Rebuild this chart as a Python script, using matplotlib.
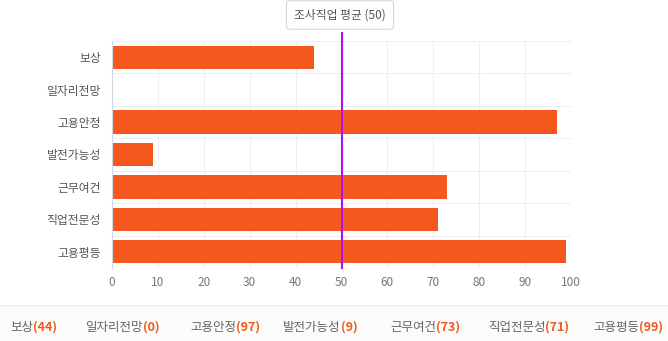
import matplotlib
matplotlib.use("Agg")
import matplotlib.pyplot as plt
from matplotlib.patches import Rectangle

categories = ["보상", "일자리전망", "고용안정", "발전가능성", "근무여건", "직업전문성", "고용평등"]
values = [44, 0, 97, 9, 73, 71, 99]
average = 50
avg_label = "조사직업 평균 (50)"
xticks = [0, 10, 20, 30, 40, 50, 60, 70, 80, 90, 100]
summary_starts = [10, 85, 190, 283, 390, 488, 593]  # px from left

bar_color = "#f4581c"
font = ["Noto Sans CJK KR", "DejaVu Sans"]
plt.rcParams["font.family"] = font

fig = plt.figure(figsize=(6.68, 3.41), dpi=100)
ax = fig.add_axes([112 / 668, 1 - 268 / 341, 459 / 668, 227 / 341])

ypos = list(range(len(categories)))
ax.barh(ypos, values, height=0.72, color=bar_color, zorder=2)
ax.set_xlim(0, 100)
ax.set_ylim(len(categories) - 0.5, -0.5)
ax.set_yticks(ypos)
ax.set_yticklabels(categories, fontsize=8.5, color="#555555")
ax.set_xticks(xticks)
ax.set_xticklabels([str(t) for t in xticks], fontsize=8.5, color="#777777")
ax.tick_params(length=0, pad=6)
ax.tick_params(axis="y", pad=8)

# grid
for t in xticks[1:]:
    ax.axvline(t, color="#efefef", lw=0.8, zorder=1)
for b in [i - 0.5 for i in range(len(categories))]:
    ax.axhline(b, color="#efefef", lw=0.8, zorder=1)
for s in ["top", "right", "bottom"]:
    ax.spines[s].set_visible(False)
ax.spines["left"].set_color("#cfd8e3")
ax.spines["left"].set_linewidth(0.8)

# average line
ax.plot([average, average], [len(categories) - 0.5, -0.75], color="#b010f0",
        lw=1.5, zorder=3, clip_on=False)
fig.text(340 / 668, 1 - 15 / 341, avg_label, ha="center", va="center",
         fontsize=8.5, color="#555555",
         bbox=dict(boxstyle="round,pad=0.65,rounding_size=0.3", fc="white",
                   ec="#d6d6d6", lw=0.8))

# bottom summary strip
fig.patches.append(Rectangle((0, 0), 1, 1 - 305 / 341, transform=fig.transFigure,
                             fc="#fbfbfb", ec="none", zorder=0))
fig.lines.append(plt.Line2D([0, 1], [1 - 305 / 341] * 2, transform=fig.transFigure,
                            color="#eeeeee", lw=0.8))

fig.canvas.draw()
y = 1 - 327 / 341
for name, v, sx in zip(categories, values, summary_starts):
    t1 = fig.text(sx / 668, y, name, fontsize=9, color="#666666", va="center", ha="left")
    t2 = fig.text(0, 0, f"({v})", fontsize=9, color="#f05a1a", fontweight="bold",
                  va="center", ha="left")
    fig.canvas.draw()
    bb = t1.get_window_extent()
    t2.set_position((bb.x1 / fig.bbox.width, y))

fig.savefig("out.png", dpi=100, facecolor="white")
